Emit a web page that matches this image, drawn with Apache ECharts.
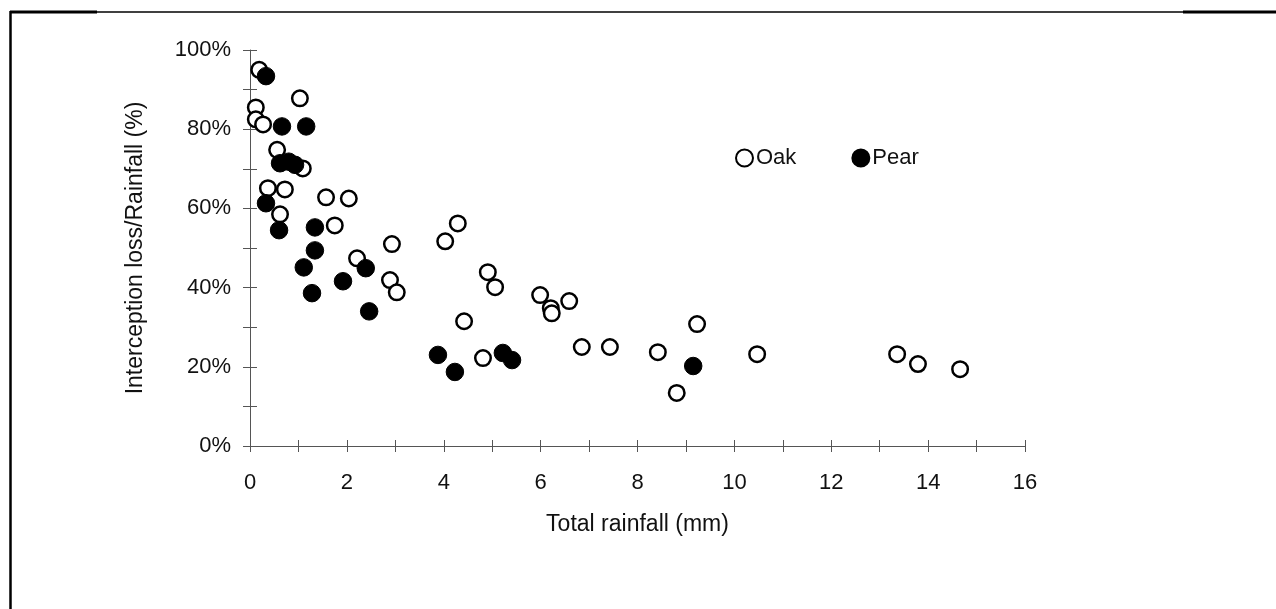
<!DOCTYPE html>
<html>
<head>
<meta charset="utf-8">
<script src="https://cdn.jsdelivr.net/npm/echarts@6/dist/echarts.min.js"></script>
<style>html,body{margin:0;padding:0;background:#fff;}#c{width:1276px;height:609px;}</style>
</head>
<body>
<div id="c"></div>
<script>
// Oak: [total rainfall (mm), interception loss / rainfall (%)]
const oakData = [
  [0.19,95.0],[1.03,87.8],[0.12,85.5],[0.12,82.5],[0.27,81.2],[0.56,74.8],
  [1.09,70.1],[0.37,65.1],[0.72,64.8],[1.57,62.8],[2.04,62.5],[0.62,58.5],
  [1.75,55.7],[2.21,47.4],[2.93,51.0],[2.89,41.9],[3.03,38.8],[4.03,51.7],
  [4.29,56.2],[4.91,43.9],[5.06,40.1],[4.42,31.5],[4.81,22.2],[5.99,38.1],
  [6.21,34.8],[6.23,33.5],[6.59,36.6],[6.85,25.0],[7.43,25.0],[8.42,23.7],
  [8.81,13.4],[9.23,30.8],[10.47,23.2],[13.36,23.2],[13.79,20.7],[14.66,19.4]
];
// Pear
const pearData = [
  [0.33,93.4],[0.66,80.7],[1.16,80.7],[0.62,71.4],[0.80,71.8],[0.93,71.0],
  [0.33,61.3],[0.60,54.5],[1.34,55.2],[1.34,49.4],[1.11,45.1],[2.39,44.9],
  [1.92,41.6],[1.28,38.6],[2.46,34.0],[3.88,23.0],[4.23,18.7],[5.22,23.5],
  [5.41,21.7],[9.15,20.2]
];
const seriesNames = ['Oak','Pear'];
const xTitle = 'Total rainfall (mm)';
const yTitle = 'Interception loss/Rainfall (%)';

const FONT = 'Liberation Sans, Arial, Helvetica, sans-serif';
const AX = '#555';
const chart = echarts.init(document.getElementById('c'), null, {renderer:'canvas'});

const baseX = {
  type:'value', min:0, max:16, interval:2, position:'bottom',
  splitLine:{show:false},
  minorTick:{show:true, splitNumber:2, length:6, lineStyle:{color:AX}},
  axisTick:{length:6, lineStyle:{color:AX}}
};
const baseY = {
  type:'value', min:0, max:100, interval:20, position:'left',
  splitLine:{show:false},
  minorTick:{show:true, splitNumber:2, length:7, lineStyle:{color:AX}},
  axisTick:{length:7, lineStyle:{color:AX}}
};

chart.setOption({
  animation:false,
  backgroundColor:'#fff',
  textStyle:{fontFamily:FONT},
  grid:{left:250, top:50, right:251, bottom:163, containLabel:false},
  legend:{
    left:730, top:142, itemWidth:17, itemHeight:17, itemGap:55,
    data:seriesNames,
    textStyle:{fontSize:22, color:'#111', fontFamily:FONT, padding:[0,0,0,-2]}
  },
  xAxis:[
    Object.assign({}, baseX, {
      axisLine:{show:true, lineStyle:{color:AX, width:1}},
      axisTick:{show:true, inside:false, length:6, lineStyle:{color:AX}},
      axisLabel:{fontSize:22, color:'#111', margin:26, fontFamily:FONT},
      name:xTitle, nameLocation:'middle', nameGap:67,
      nameTextStyle:{fontSize:23, color:'#111', fontFamily:FONT}
    }),
    Object.assign({}, baseX, {
      axisLine:{show:false},
      axisTick:{show:true, inside:true, length:6, lineStyle:{color:AX}},
      axisLabel:{show:false}
    })
  ],
  yAxis:[
    Object.assign({}, baseY, {
      axisLine:{show:true, lineStyle:{color:AX, width:1}},
      axisTick:{show:true, inside:false, length:7, lineStyle:{color:AX}},
      axisLabel:{fontSize:22, color:'#111', margin:19, formatter:'{value}%', fontFamily:FONT},
      name:yTitle, nameLocation:'middle', nameGap:103, nameRotate:90,
      nameTextStyle:{fontSize:23, color:'#111', fontFamily:FONT}
    }),
    Object.assign({}, baseY, {
      axisLine:{show:false},
      axisTick:{show:true, inside:true, length:7, lineStyle:{color:AX}},
      axisLabel:{show:false}
    })
  ],
  series:[
    {
      name:seriesNames[0], type:'scatter', data:oakData, symbol:'circle', symbolSize:15.5,
      itemStyle:{color:'#fff', borderColor:'#000', borderWidth:2.5, opacity:1},
      emphasis:{disabled:true}, z:2
    },
    {
      name:seriesNames[1], type:'scatter', data:pearData, symbol:'circle', symbolSize:17.5,
      itemStyle:{color:'#000', borderColor:'#000', borderWidth:1, opacity:1},
      emphasis:{disabled:true}, z:3
    }
  ],
  graphic:[
    {type:'line', shape:{x1:10, y1:12, x2:1276, y2:12}, style:{stroke:'#000', lineWidth:1.5}},
    {type:'line', shape:{x1:10, y1:12, x2:97, y2:12}, style:{stroke:'#000', lineWidth:3}},
    {type:'line', shape:{x1:1183, y1:12, x2:1276, y2:12}, style:{stroke:'#000', lineWidth:3}},
    {type:'line', shape:{x1:10.5, y1:11, x2:10.5, y2:609}, style:{stroke:'#000', lineWidth:2.5}}
  ]
});
</script>
</body>
</html>
